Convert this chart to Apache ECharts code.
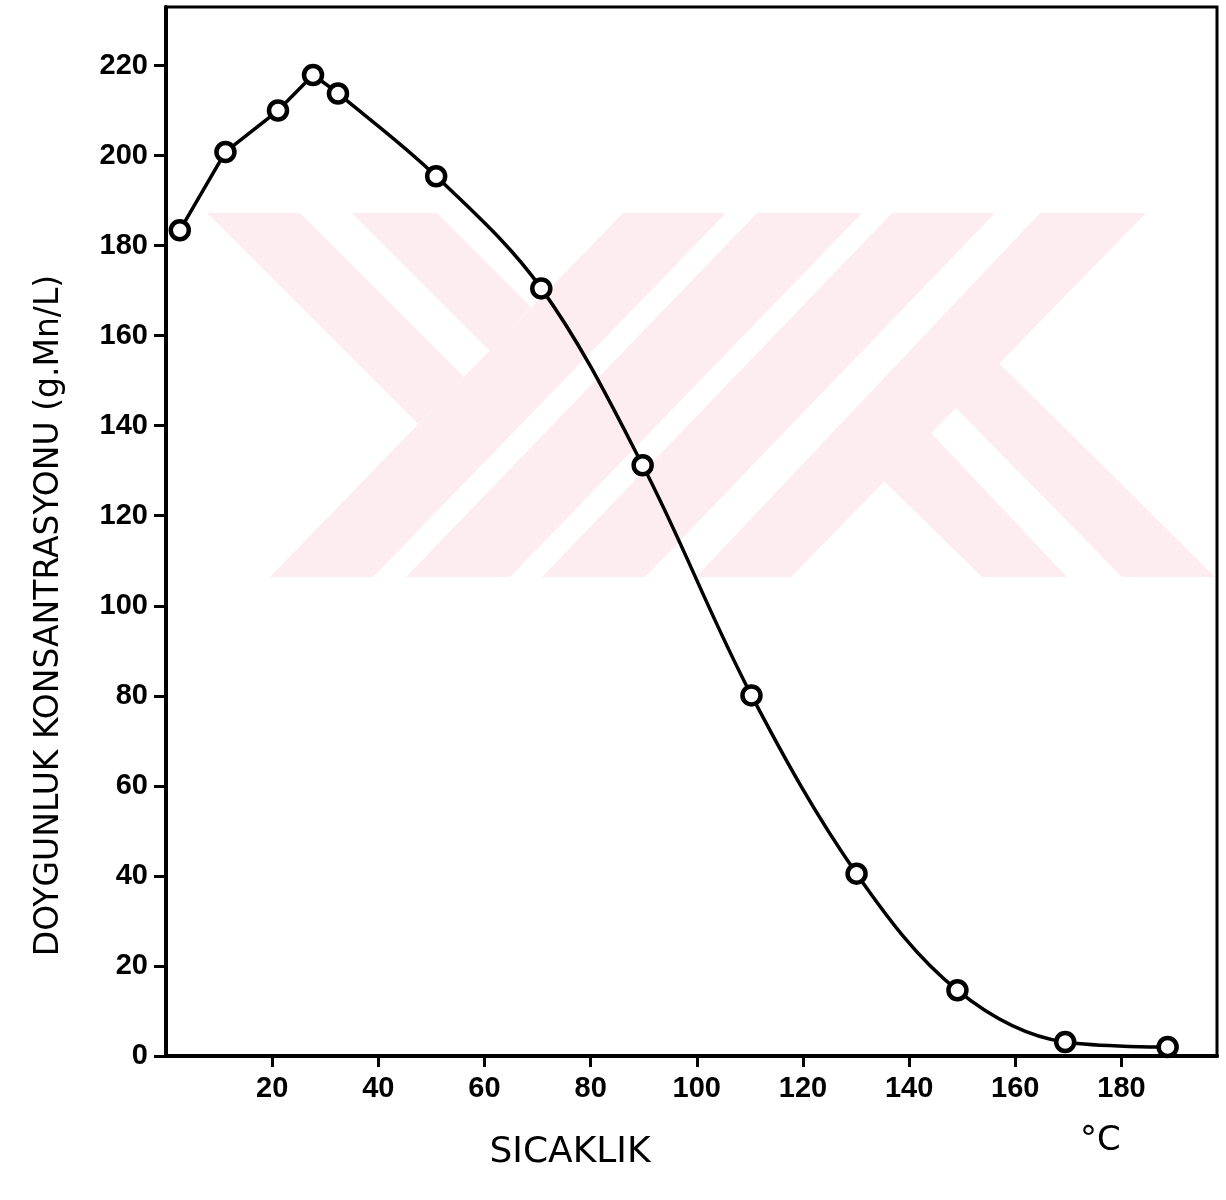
<!DOCTYPE html>
<html>
<head>
<meta charset="utf-8">
<script src="https://cdn.jsdelivr.net/npm/echarts@6/dist/echarts.min.js"></script>
<style>
html,body{margin:0;padding:0;background:#fff;}
#chart{width:1226px;height:1200px;}
</style>
</head>
<body>
<div id="chart"></div>
<script>
// Temperature (°C) and saturation concentration (g Mn/L)
const temperature = [2.6, 11.2, 21.1, 27.7, 32.4, 50.9, 70.7, 89.8, 110.3, 130.1, 149.1, 169.4, 188.7];
const concentration = [183.4, 200.8, 210, 217.9, 213.8, 195.4, 170.5, 131.2, 80.1, 40.5, 14.6, 3.1, 2.0];
const xTicks = [0, 20, 40, 60, 80, 100, 120, 140, 160, 180];
const yTicks = [0, 20, 40, 60, 80, 100, 120, 140, 160, 180, 200, 220];
const xTitle = 'SICAKLIK';
const yTitle = 'DOYGUNLUK KONSANTRASYONU (g.Mn/L)';
const unitLabel = '°C';

const pts = temperature.map((t, i) => [t, concentration[i]]);
const risePart = pts.slice(0, 4);   // straight segments
const fallPart = pts.slice(3);      // smooth curve

// background watermark (decorative)
const wmShapes = [
  [[207,213],[300,213],[464,377],[418,424]],
  [[352,213],[437,213],[531,307],[490,351]],
  [[623,213],[726,213],[373,577],[270,577]],
  [[757,213],[862,213],[510,577],[406,577]],
  [[892,213],[995,213],[645,577],[542,577]],
  [[1040,213],[1146,213],[791,577],[696,577]],
  [[999,363],[1215,577],[1122,577],[955,407]],
  [[931,433],[1067,577],[982,577],[883,480]]
];

const chart = echarts.init(document.getElementById('chart'), null, {renderer: 'canvas'});
const numFont = {fontFamily: 'Liberation Sans', fontWeight: 'bold', fontSize: 29, color: '#000'};

chart.setOption({
  backgroundColor: '#fff',
  animation: false,
  graphic: [
    ...wmShapes.map(p => ({
      type: 'polygon', z: -10, silent: true,
      shape: {points: p},
      style: {fill: '#fdedf0'}
    })),
    {
      type: 'text', left: 1080, top: 1124, z: 10,
      style: {text: unitLabel, font: '34px "DejaVu Sans"', fill: '#000'}
    }
  ],
  grid: {
    left: 166, right: 9, top: 7, bottom: 144,
    show: true, borderColor: '#000', borderWidth: 3, backgroundColor: 'transparent'
  },
  xAxis: {
    type: 'value', min: 0, max: 198, interval: 20,
    name: xTitle, nameLocation: 'middle', nameGap: 79,
    nameTextStyle: {fontFamily: 'DejaVu Sans', fontSize: 36, color: '#000', padding: [0, 243, 0, 0]},
    axisLine: {show: true, onZero: false, lineStyle: {color: '#000', width: 4}},
    axisTick: {show: true, inside: false, length: 11, lineStyle: {color: '#000', width: 3}},
    axisLabel: Object.assign({margin: 18, showMinLabel: false, showMaxLabel: false,
      formatter: v => xTicks.includes(v) ? String(v) : ''}, numFont),
    splitLine: {show: false}
  },
  yAxis: {
    type: 'value', min: 0, max: 233, interval: 20,
    name: yTitle, nameLocation: 'middle', nameGap: 100, nameRotate: 90,
    nameTextStyle: {fontFamily: 'DejaVu Sans', fontSize: 33, color: '#000', padding: [0, 168, 0, 0]},
    axisLine: {show: true, onZero: false, lineStyle: {color: '#000', width: 4}},
    axisTick: {show: true, inside: false, length: 12, lineStyle: {color: '#000', width: 3}},
    axisLabel: Object.assign({margin: 18, showMaxLabel: false,
      formatter: v => yTicks.includes(v) ? String(v) : ''}, numFont),
    splitLine: {show: false}
  },
  series: [
    {
      type: 'line', name: 'rise', data: risePart, smooth: false,
      showSymbol: false, lineStyle: {color: '#000', width: 3.5}, z: 3
    },
    {
      type: 'line', name: 'fall', data: fallPart, smooth: 0.35,
      showSymbol: false, lineStyle: {color: '#000', width: 3.5}, z: 3
    },
    {
      type: 'scatter', name: 'points', data: pts, symbol: 'circle', symbolSize: 18,
      itemStyle: {color: '#fff', borderColor: '#000', borderWidth: 4.5, opacity: 1}, z: 5
    }
  ]
});
</script>
</body>
</html>
